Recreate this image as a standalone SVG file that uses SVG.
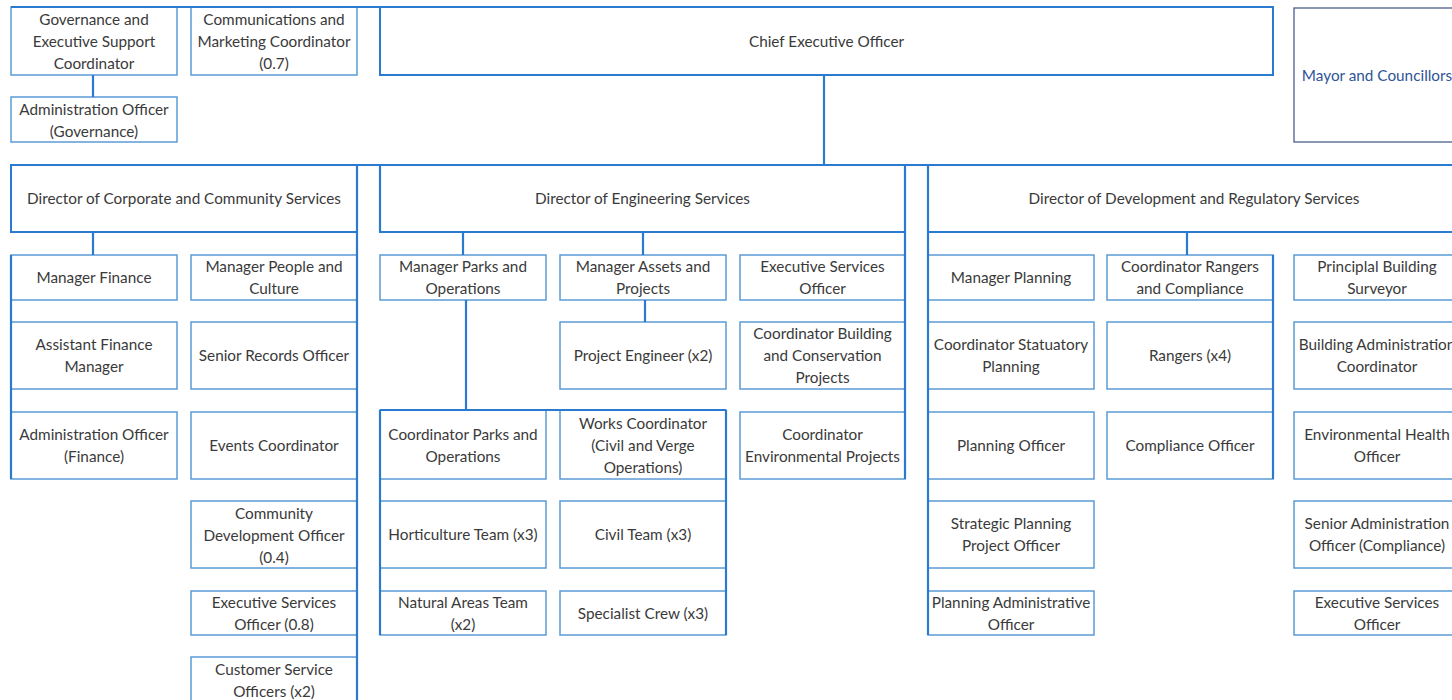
<svg xmlns="http://www.w3.org/2000/svg" width="1452" height="700" viewBox="0 0 1452 700">
<style>
.b{fill:#fff;stroke:#5b9bd5;stroke-width:1.5}
.d{fill:#fff;stroke:#2a7bd0;stroke-width:2}
.m{fill:#fff;stroke:#4a5f8c;stroke-width:1.3}
.c{fill:none;stroke:#2a7bd0;stroke-width:2.2}
text{font-family:Lato,"Liberation Sans",sans-serif;font-size:15.3px;fill:#3a3a3a;text-anchor:middle;dominant-baseline:central}
.mt{fill:#2f5597}
</style>
<rect width="1452" height="700" fill="#fff"/>
<g id="nodes">
<g id="gov"><rect class="b" x="11" y="7" width="166" height="68"/><text><tspan x="94" y="19">Governance and</tspan><tspan x="94" y="41">Executive Support</tspan><tspan x="94" y="63">Coordinator</tspan></text></g>
<g id="comms"><rect class="b" x="191" y="7" width="166" height="68"/><text><tspan x="274" y="19">Communications and</tspan><tspan x="274" y="41">Marketing Coordinator</tspan><tspan x="274" y="63">(0.7)</tspan></text></g>
<g id="ceo"><rect class="d" x="380" y="7" width="893" height="68"/><text x="826.5" y="41">Chief Executive Officer</text></g>
<g id="mayor"><rect class="m" x="1294" y="8" width="170" height="134"/><text class="mt" x="1377" y="75">Mayor and Councillors</text></g>
<g id="adminGov"><rect class="b" x="11" y="97" width="166" height="45"/><text><tspan x="94" y="109">Administration Officer</tspan><tspan x="94" y="131">(Governance)</tspan></text></g>

<g id="dirCorp"><rect class="d" x="11" y="165" width="346" height="67"/><text x="184" y="198">Director of Corporate and Community Services</text></g>
<g id="dirEng"><rect class="d" x="380" y="165" width="525" height="67"/><text x="642.5" y="198">Director of Engineering Services</text></g>
<g id="dirDev"><rect class="d" x="928" y="165" width="532" height="67"/><text x="1194" y="198">Director of Development and Regulatory Services</text></g>

<g id="mgrFin"><rect class="b" x="11" y="255" width="166" height="45"/><text x="94" y="277">Manager Finance</text></g>
<g id="asstFin"><rect class="b" x="11" y="322" width="166" height="67"/><text><tspan x="94" y="344">Assistant Finance</tspan><tspan x="94" y="366">Manager</tspan></text></g>
<g id="adminFin"><rect class="b" x="11" y="412" width="166" height="67"/><text><tspan x="94" y="434">Administration Officer</tspan><tspan x="94" y="456">(Finance)</tspan></text></g>

<g id="mgrPeople"><rect class="b" x="191" y="255" width="166" height="45"/><text><tspan x="274" y="266">Manager People and</tspan><tspan x="274" y="288">Culture</tspan></text></g>
<g id="seniorRec"><rect class="b" x="191" y="322" width="166" height="67"/><text x="274" y="355">Senior Records Officer</text></g>
<g id="events"><rect class="b" x="191" y="412" width="166" height="67"/><text x="274" y="445">Events Coordinator</text></g>
<g id="commDev"><rect class="b" x="191" y="501" width="166" height="67"/><text><tspan x="274" y="513">Community</tspan><tspan x="274" y="535">Development Officer</tspan><tspan x="274" y="557">(0.4)</tspan></text></g>
<g id="execSvcCorp"><rect class="b" x="191" y="591" width="166" height="44"/><text><tspan x="274" y="602">Executive Services</tspan><tspan x="274" y="624">Officer (0.8)</tspan></text></g>
<g id="custSvc"><rect class="b" x="191" y="657" width="166" height="50"/><text><tspan x="274" y="669">Customer Service</tspan><tspan x="274" y="691">Officers (x2)</tspan></text></g>

<g id="mgrParks"><rect class="b" x="380" y="255" width="166" height="45"/><text><tspan x="463" y="266">Manager Parks and</tspan><tspan x="463" y="288">Operations</tspan></text></g>
<g id="mgrAssets"><rect class="b" x="560" y="255" width="166" height="45"/><text><tspan x="643" y="266">Manager Assets and</tspan><tspan x="643" y="288">Projects</tspan></text></g>
<g id="execSvcEng"><rect class="b" x="740" y="255" width="165" height="45"/><text><tspan x="822.5" y="266">Executive Services</tspan><tspan x="822.5" y="288">Officer</tspan></text></g>
<g id="projEng"><rect class="b" x="560" y="322" width="166" height="67"/><text x="643" y="355">Project Engineer (x2)</text></g>
<g id="coordBuild"><rect class="b" x="740" y="322" width="165" height="67"/><text><tspan x="822.5" y="333">Coordinator Building</tspan><tspan x="822.5" y="355">and Conservation</tspan><tspan x="822.5" y="377">Projects</tspan></text></g>
<g id="coordParks"><rect class="b" x="380" y="410" width="166" height="69"/><text><tspan x="463" y="434">Coordinator Parks and</tspan><tspan x="463" y="456">Operations</tspan></text></g>
<g id="works"><rect class="b" x="560" y="410" width="166" height="69"/><text><tspan x="643" y="423">Works Coordinator</tspan><tspan x="643" y="445">(Civil and Verge</tspan><tspan x="643" y="467">Operations)</tspan></text></g>
<g id="coordEnv"><rect class="b" x="740" y="412" width="165" height="67"/><text><tspan x="822.5" y="434">Coordinator</tspan><tspan x="822.5" y="456">Environmental Projects</tspan></text></g>
<g id="hort"><rect class="b" x="380" y="501" width="166" height="67"/><text x="463" y="534">Horticulture Team (x3)</text></g>
<g id="civil"><rect class="b" x="560" y="501" width="166" height="67"/><text x="643" y="534">Civil Team (x3)</text></g>
<g id="natural"><rect class="b" x="380" y="591" width="166" height="44"/><text><tspan x="463" y="602">Natural Areas Team</tspan><tspan x="463" y="624">(x2)</tspan></text></g>
<g id="specialist"><rect class="b" x="560" y="591" width="166" height="44"/><text x="643" y="613">Specialist Crew (x3)</text></g>

<g id="mgrPlan"><rect class="b" x="928" y="255" width="166" height="45"/><text x="1011" y="277">Manager Planning</text></g>
<g id="coordRangers"><rect class="b" x="1107" y="255" width="166" height="45"/><text><tspan x="1190" y="266">Coordinator Rangers</tspan><tspan x="1190" y="288">and Compliance</tspan></text></g>
<g id="principal"><rect class="b" x="1294" y="255" width="166" height="45"/><text><tspan x="1377" y="266">Principlal Building</tspan><tspan x="1377" y="288">Surveyor</tspan></text></g>
<g id="coordStat"><rect class="b" x="928" y="322" width="166" height="67"/><text><tspan x="1011" y="344">Coordinator Statuatory</tspan><tspan x="1011" y="366">Planning</tspan></text></g>
<g id="rangers"><rect class="b" x="1107" y="322" width="166" height="67"/><text x="1190" y="355">Rangers (x4)</text></g>
<g id="bldgAdmin"><rect class="b" x="1294" y="322" width="166" height="67"/><text><tspan x="1377" y="344">Building Administration</tspan><tspan x="1377" y="366">Coordinator</tspan></text></g>
<g id="planOff"><rect class="b" x="928" y="412" width="166" height="67"/><text x="1011" y="445">Planning Officer</text></g>
<g id="compOff"><rect class="b" x="1107" y="412" width="166" height="67"/><text x="1190" y="445">Compliance Officer</text></g>
<g id="envHealth"><rect class="b" x="1294" y="412" width="166" height="67"/><text><tspan x="1377" y="434">Environmental Health</tspan><tspan x="1377" y="456">Officer</tspan></text></g>
<g id="strategic"><rect class="b" x="928" y="501" width="166" height="67"/><text><tspan x="1011" y="523">Strategic Planning</tspan><tspan x="1011" y="545">Project Officer</tspan></text></g>
<g id="seniorAdmin"><rect class="b" x="1294" y="501" width="166" height="67"/><text><tspan x="1377" y="523">Senior Administration</tspan><tspan x="1377" y="545">Officer (Compliance)</tspan></text></g>
<g id="planAdmin"><rect class="b" x="928" y="591" width="166" height="44"/><text><tspan x="1011" y="602">Planning Administrative</tspan><tspan x="1011" y="624">Officer</tspan></text></g>
<g id="execSvcDev"><rect class="b" x="1294" y="591" width="166" height="44"/><text><tspan x="1377" y="602">Executive Services</tspan><tspan x="1377" y="624">Officer</tspan></text></g>
</g>
<g id="connectors" class="c">
<path d="M11,7 H1273"/>
<path d="M824,75 V165"/>
<path d="M11,165 H1452"/>
<path d="M93,75 V97"/>
<path d="M93,232 V255"/>
<path d="M11,255 V479"/>
<path d="M357,165 V700"/>
<path d="M380,165 V232"/>
<path d="M463,232 V255"/>
<path d="M643,232 V255"/>
<path d="M645,300 V322"/>
<path d="M466,300 V410"/>
<path d="M380,410 H726"/>
<path d="M380,410 V635"/>
<path d="M726,410 V635"/>
<path d="M905,165 V479"/>
<path d="M928,165 V635"/>
<path d="M1187,232 V255"/>
<path d="M1273,255 V479"/>
</g>
</svg>
